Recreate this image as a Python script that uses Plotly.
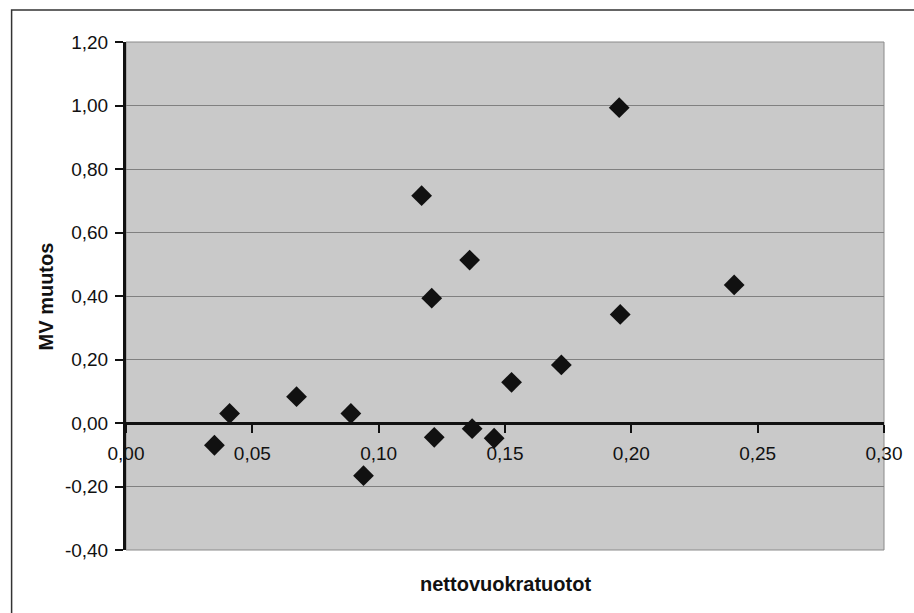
import plotly.graph_objects as go

# Net rental yield vs. market value change
nettovuokratuotot = [0.035, 0.041, 0.0675, 0.089, 0.094, 0.117, 0.121, 0.122,
                     0.136, 0.137, 0.1457, 0.1526, 0.1723, 0.1952, 0.1956, 0.2407]
mv_muutos = [-0.07, 0.03, 0.083, 0.03, -0.166, 0.716, 0.393, -0.045,
             0.513, -0.018, -0.048, 0.128, 0.183, 0.993, 0.342, 0.435]

x_ticks = [0.0, 0.05, 0.10, 0.15, 0.20, 0.25, 0.30]
x_tick_labels = ["0,00", "0,05", "0,10", "0,15", "0,20", "0,25", "0,30"]
y_ticks = [-0.4, -0.2, 0.0, 0.2, 0.4, 0.6, 0.8, 1.0, 1.2]
y_tick_labels = ["-0,40", "-0,20", "0,00", "0,20", "0,40", "0,60", "0,80", "1,00", "1,20"]

x_title = "nettovuokratuotot"
y_title = "MV muutos"

W, H = 914, 613
L, R, T, B = 126, 26, 42, 63
plot_w, plot_h = W - L - R, H - T - B

def px_x(px):
    return (px - L) / plot_w

def px_y(py):
    return (H - B - py) / plot_h

y_min, y_max = y_ticks[0], y_ticks[-1]
x_axis_pos = (0 - y_min) / (y_max - y_min)

font = "Liberation Sans, Arial, sans-serif"

fig = go.Figure()
fig.add_trace(go.Scatter(
    x=nettovuokratuotot, y=mv_muutos, mode="markers",
    marker=dict(symbol="diamond", size=16, color="#111111", line=dict(width=0)),
    showlegend=False, cliponaxis=False,
))

fig.update_layout(
    width=W, height=H,
    margin=dict(l=L, r=R, t=T, b=B),
    paper_bgcolor="white",
    plot_bgcolor="#c9c9c9",
    font=dict(family=font, size=19, color="#111111"),
    xaxis=dict(
        range=[x_ticks[0], x_ticks[-1]],
        tickmode="array", tickvals=x_ticks, ticktext=x_tick_labels,
        tickfont=dict(size=19),
        anchor="free", position=x_axis_pos,
        showgrid=False, zeroline=False,
        showline=True, linecolor="#111111", linewidth=3,
        ticks="outside", ticklen=8, tickwidth=2, tickcolor="#111111",
        ticklabelstandoff=4,
    ),
    yaxis=dict(
        range=[y_min, y_max],
        tickmode="array", tickvals=y_ticks, ticktext=y_tick_labels,
        tickfont=dict(size=19),
        showgrid=True, gridcolor="#808080", gridwidth=1,
        zeroline=False,
        showline=True, linecolor="#111111", linewidth=3,
        ticks="outside", ticklen=8, tickwidth=2, tickcolor="#111111",
        ticklabelstandoff=3,
    ),
    shapes=[
        # thin frame around the plot area
        dict(type="rect", xref="x domain", yref="y domain",
             x0=0, x1=1, y0=0, y1=1, layer="below",
             line=dict(color="#8a8a8a", width=1)),
        # outer chart border
        dict(type="rect", xref="paper", yref="paper",
             x0=px_x(11), x1=px_x(925), y0=px_y(625), y1=px_y(10),
             line=dict(color="#333333", width=1.5)),
    ],
    annotations=[
        dict(text=f"<b>{x_title}</b>", xref="paper", yref="paper",
             x=0.5, y=px_y(584), xanchor="center", yanchor="middle",
             showarrow=False, font=dict(size=20, family=font)),
        dict(text=f"<b>{y_title}</b>", xref="paper", yref="paper",
             x=px_x(46), y=0.5, xanchor="center", yanchor="middle",
             textangle=-90, showarrow=False, font=dict(size=20, family=font)),
    ],
)

fig.write_html("out.html")
